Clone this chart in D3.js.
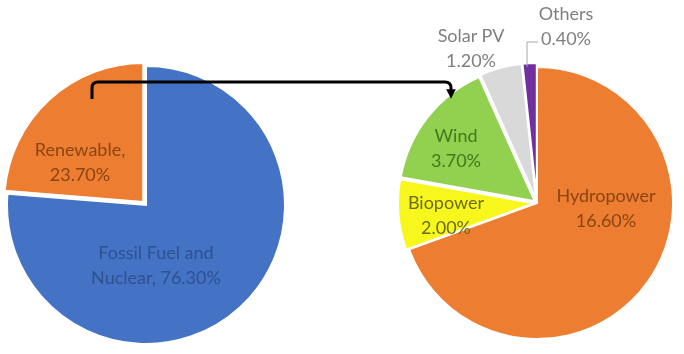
<!DOCTYPE html>
<html>
<head>
<meta charset="utf-8">
<script src="https://cdn.jsdelivr.net/npm/d3@7"></script>
<style>
  html, body { margin: 0; padding: 0; background: #fff; }
  svg { display: block; filter: blur(0.5px); }
</style>
</head>
<body>
<div id="chart"></div>
<script>
'use strict';

// left pie, drawn clockwise from 12 o'clock
const mainNames = ["Fossil Fuel and Nuclear", "Renewable"];
const mainValues = [76.3, 23.7];
const mainLabels = [["Fossil Fuel and", "Nuclear, 76.30%"], ["Renewable,", "23.70%"]];

// right pie, the renewable share split up
const subNames = ["Hydropower", "Biopower", "Wind", "Solar PV", "Others"];
const subValues = [16.6, 2.0, 3.7, 1.2, 0.4];
const subLabels = [["Hydropower", "16.60%"], ["Biopower", "2.00%"], ["Wind", "3.70%"], ["Solar PV", "1.20%"], ["Others", "0.40%"]];

const width = 684;
const height = 354;

const fill = {
    "Fossil Fuel and Nuclear": "#4472C4",
    "Renewable": "#ED7D31",
    "Hydropower": "#ED7D31",
    "Biopower": "#F7F71E",
    "Wind": "#92D050",
    "Solar PV": "#D9D9D9",
    "Others": "#7030A0"
};
const textColor = {
    "Fossil Fuel and Nuclear": "#2F528F",
    "Renewable": "#8A4514",
    "Hydropower": "#8A4514",
    "Biopower": "#6B6B10",
    "Wind": "#3B7A1E",
    "Solar PV": "#7F7F7F",
    "Others": "#7F7F7F"
};
// explode distance and label spot (relative to pie centre)
const explode = { "Renewable": 4, "Biopower": 3, "Wind": 3, "Solar PV": 4, "Others": 4 };
const labelAt = {
    "Fossil Fuel and Nuclear": [10, 60],
    "Renewable": [-66, -43],
    "Hydropower": [69, 5],
    "Biopower": [-91, 12],
    "Wind": [-81, -55],
    "Solar PV": [-66, -155],
    "Others": [29, -177]
};

const svg = d3.select("#chart")
    .append("svg")
    .attr("width", width)
    .attr("height", height)
    .attr("viewBox", `0 0 ${width} ${height}`);

const font = "Lato, 'Open Sans', sans-serif";

function drawPie(cx, cy, r, names, values, labels) {
    const pie = d3.pie().sort(null).value(d => d.v);
    const arc = d3.arc().innerRadius(0).outerRadius(r);
    const arcs = pie(names.map((n, i) => ({ name: n, v: values[i], lines: labels[i] })));
    const g = svg.append("g").attr("transform", `translate(${cx},${cy})`);

    g.selectAll("path.slice")
        .data(arcs)
        .join("path")
        .attr("class", "slice")
        .attr("d", arc)
        .attr("fill", d => fill[d.data.name])
        .attr("stroke", "#fff")
        .attr("stroke-width", 2)
        .attr("transform", d => {
            const k = explode[d.data.name] || 0;
            const a = (d.startAngle + d.endAngle) / 2;
            return `translate(${k * Math.sin(a)},${-k * Math.cos(a)})`;
        });

    const txt = g.selectAll("text.lbl")
        .data(arcs)
        .join("text")
        .attr("class", "lbl")
        .attr("text-anchor", "middle")
        .attr("font-family", font)
        .attr("font-size", 18)
        .attr("fill", d => textColor[d.data.name])
        .attr("transform", d => `translate(${labelAt[d.data.name][0]},${labelAt[d.data.name][1]})`);
    txt.selectAll("tspan")
        .data(d => d.data.lines.map((t, i) => ({ t, i })))
        .join("tspan")
        .attr("x", 0)
        .attr("y", d => d.i * 25 - 12.5)
        .attr("dy", "0.35em")
        .text(d => d.t);
    return g;
}

const left = drawPie(146, 205, 139, mainNames, mainValues, mainLabels);
const right = drawPie(537, 203, 136, subNames, subValues, subLabels);

// leader line for "Others"
right.append("path")
    .attr("d", "M1,-161 H-10 V-136")
    .attr("fill", "none")
    .attr("stroke", "#A6A6A6")
    .attr("stroke-width", 1);

// connecting arrow from Renewable slice to the breakdown
svg.append("defs").append("marker")
    .attr("id", "head")
    .attr("viewBox", "0 0 10 10")
    .attr("refX", 5).attr("refY", 5)
    .attr("markerWidth", 3.2).attr("markerHeight", 3.2)
    .attr("orient", "auto")
    .append("path")
    .attr("d", "M0,0 L10,5 L0,10 z")
    .attr("fill", "#000");

svg.append("path")
    .attr("d", "M92,99 V88 Q92,82 98,82 H445 Q451,82 451,88 V94")
    .attr("fill", "none")
    .attr("stroke", "#000")
    .attr("stroke-width", 3)
    .attr("marker-end", "url(#head)");
</script>
</body>
</html>
